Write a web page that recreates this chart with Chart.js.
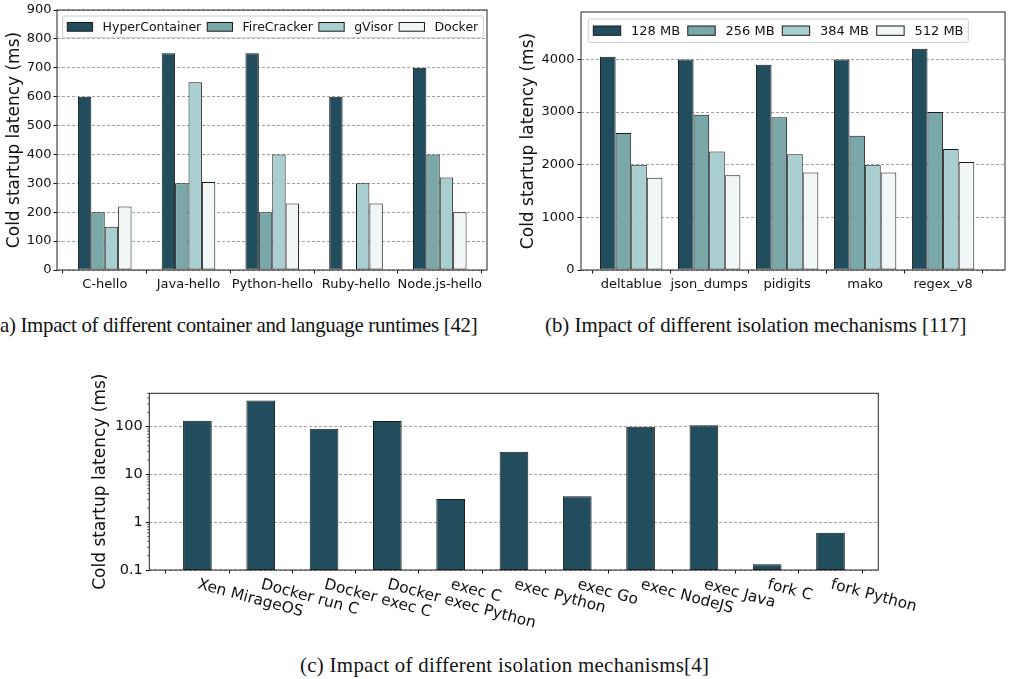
<!DOCTYPE html>
<html><head><meta charset="utf-8">
<script src="https://cdn.jsdelivr.net/npm/chart.js@4.4.1/dist/chart.umd.min.js"></script>
<style>
html,body{margin:0;padding:0;background:#fff;width:1011px;height:679px;overflow:hidden;position:relative}
canvas{position:absolute;display:block}
.cap{position:absolute;font-family:'Liberation Serif','DejaVu Serif',serif;white-space:nowrap;color:#111;line-height:1.2}
</style></head><body>
<canvas id="ca" width="500" height="300" style="left:0;top:0;width:500px;height:300px"></canvas>
<canvas id="cb" width="506" height="300" style="left:505px;top:0;width:506px;height:300px"></canvas>
<canvas id="cc" width="1011" height="282" style="left:0;top:360px;width:1011px;height:282px"></canvas>
<div class="cap" id="capA">(a) Impact of different container and language runtimes [42]</div>
<div class="cap" id="capB">(b) Impact of different isolation mechanisms [117]</div>
<div class="cap" id="capC">(c) Impact of different isolation mechanisms[4]</div>
<script>
// ---------- data ----------
const runtimeCategories = ['C-hello','Java-hello','Python-hello','Ruby-hello','Node.js-hello'];
const hyperContainer = [600,750,750,600,700];
const fireCracker   = [200,300,200,null,400];
const gVisor        = [150,650,400,300,320];
const docker        = [220,305,230,230,200];
const runtimeYTicks = [0,100,200,300,400,500,600,700,800,900];

const benchCategories = ['deltablue','json_dumps','pidigits','mako','regex_v8'];
const mem128 = [4050,4000,3900,4000,4200];
const mem256 = [2600,2950,2900,2550,3000];
const mem384 = [2000,2250,2200,2000,2300];
const mem512 = [1750,1800,1850,1850,2050];
const benchYTicks = [0,1000,2000,3000,4000];

const isoCategories = ['Xen MirageOS','Docker run C','Docker exec C','Docker exec Python','exec C','exec Python','exec Go','exec NodeJS','exec Java','fork C','fork Python'];
const isoLatency = [133,355,91,131,3.05,30,3.5,100,107,0.132,0.6];
const isoYTicks = [0.1,1,10,100];
const isoYTickLabels = ['0.1','1','10','100'];
const isoMinorTicks = [0.2,0.3,0.4,0.5,0.6,0.7,0.8,0.9,2,3,4,5,6,7,8,9,20,30,40,50,60,70,80,90,200,300,400,500];

// ---------- style ----------
const C_DARK = '#214d5c', C_MID = '#7aa8a8', C_LIGHT = '#aacfd0', C_WHITE = '#f1f6f6';
const EDGE = '#1a1a1a';
const FONT = '"DejaVu Sans", Verdana, sans-serif';
Chart.defaults.font.family = FONT;
Chart.defaults.color = '#111';

function pts(arr){ return arr.map((v,i)=>({x:i,y:v})); }

const framePlugin = {
  id:'frame',
  afterDraw(chart){
    const a = chart.chartArea, ctx = chart.ctx;
    ctx.save(); ctx.strokeStyle = '#222'; ctx.lineWidth = 1;
    ctx.strokeRect(a.left, a.top, a.right-a.left, a.bottom-a.top);
    ctx.restore();
  }
};

const boxLegendPlugin = {
  id:'boxLegend',
  afterDraw(chart, args, o){
    if(!o || !o.show) return;
    const ctx = chart.ctx; ctx.save();
    ctx.font = o.fontSize + 'px ' + FONT;
    const r = 2;
    ctx.beginPath();
    ctx.moveTo(o.x+r,o.y); ctx.lineTo(o.x+o.w-r,o.y); ctx.quadraticCurveTo(o.x+o.w,o.y,o.x+o.w,o.y+r);
    ctx.lineTo(o.x+o.w,o.y+o.h-r); ctx.quadraticCurveTo(o.x+o.w,o.y+o.h,o.x+o.w-r,o.y+o.h);
    ctx.lineTo(o.x+r,o.y+o.h); ctx.quadraticCurveTo(o.x,o.y+o.h,o.x,o.y+o.h-r);
    ctx.lineTo(o.x,o.y+r); ctx.quadraticCurveTo(o.x,o.y,o.x+r,o.y); ctx.closePath();
    ctx.fillStyle = 'rgba(255,255,255,0.85)'; ctx.fill();
    ctx.strokeStyle = '#cccccc'; ctx.lineWidth = 1; ctx.stroke();
    let x = o.x + o.pad; const cy = o.y + o.h/2;
    chart.data.datasets.forEach(ds=>{
      ctx.fillStyle = ds.backgroundColor;
      ctx.fillRect(x, cy-o.swH/2, o.swW, o.swH);
      ctx.strokeStyle = ds.borderColor; ctx.lineWidth = 1;
      ctx.strokeRect(x, cy-o.swH/2, o.swW, o.swH);
      x += o.swW + o.gap;
      ctx.fillStyle = '#111'; ctx.textBaseline = 'middle'; ctx.textAlign = 'left';
      ctx.fillText(ds.label, x, cy+0.5);
      x += ctx.measureText(ds.label).width + o.colGap;
    });
    ctx.restore();
  }
};

function groupedChart(id, cats, series, labels, colors, yTicks, yMax, xMin, xMax, yWidth, titlePad, pad, legend, tickPad, catPct){
  return new Chart(document.getElementById(id), {
    type:'bar',
    data:{ datasets: series.map((s,k)=>({
      label: labels[k], data: pts(s), backgroundColor: colors[k], borderColor: EDGE,
      borderWidth: 1, borderSkipped: false, barPercentage: 1, categoryPercentage: catPct }))},
    options:{
      responsive:false, animation:false, events:[],
      layout:{ padding: pad },
      plugins:{ legend:{display:false}, tooltip:{enabled:false}, boxLegend: legend },
      scales:{
        x:{ type:'linear', min:xMin, max:xMax, offset:false,
          afterBuildTicks: s=>{ s.ticks = cats.map((c,i)=>({value:i})); },
          afterFit: s=>{ s.height = 30; },
          ticks:{ callback:(v,i)=>cats[i], font:{size:13}, color:'#111', padding:3, maxRotation:0, minRotation:0, autoSkip:false },
          grid:{ drawOnChartArea:false, tickColor:'#111', tickLength:3.5, tickWidth:1 },
          border:{ display:false } },
        y:{ type:'linear', min:0, max:yMax,
          afterBuildTicks: s=>{ s.ticks = yTicks.map(v=>({value:v})); },
          afterFit: s=>{ s.width = yWidth; },
          ticks:{ callback:(v,i)=>String(yTicks[i]), font:{size:13}, color:'#111', padding:tickPad },
          grid:{ color:'#8a8a8a', lineWidth:0.8, tickColor:'#111', tickLength:3.5, tickWidth:1 },
          border:{ display:false, dash:[3,2] },
          title:{ display:true, text:'Cold startup latency (ms)', font:{size:17}, color:'#111', padding:{top:titlePad, bottom:0} } }
      }
    },
    plugins:[framePlugin, boxLegendPlugin]
  });
}

// (a)
const chartA = groupedChart('ca', runtimeCategories,
  [hyperContainer, fireCracker, gVisor, docker], ['HyperContainer','FireCracker','gVisor','Docker'],
  [C_DARK,C_MID,C_LIGHT,C_WHITE], runtimeYTicks, 900, -0.57, 4.564, 57, 4.3,
  {left:0, top:10, right:13, bottom:0},
  {show:true, x:62.7, y:16, w:420.6, h:21.7, pad:4.6, swW:25.3, swH:8.7, gap:10, colGap:6, fontSize:12.5}, 2, 0.64);

// (b)
const chartB = groupedChart('cb', benchCategories,
  [mem128, mem256, mem384, mem512], ['128 MB','256 MB','384 MB','512 MB'],
  [C_DARK,C_MID,C_LIGHT,C_WHITE], benchYTicks, 4900, -0.644, 4.794, 76, 13.8,
  {left:0, top:12, right:6, bottom:0},
  {show:true, x:83.3, y:19, w:380, h:23.3, pad:5, swW:27.4, swH:9.3, gap:10.3, colGap:7.7, fontSize:13}, 3, 0.8);

// (c)
const rotatedLabels = {
  id:'rotLabels',
  afterDraw(chart){
    const ctx = chart.ctx, xs = chart.scales.x, a = chart.chartArea;
    ctx.save(); ctx.font = '15.4px ' + FONT; ctx.fillStyle = '#111';
    ctx.textAlign = 'left'; ctx.textBaseline = 'top';
    isoCategories.forEach((lab,i)=>{
      const px = xs.getPixelForValue(i);
      ctx.save(); ctx.translate(px+2.5, a.bottom+7); ctx.rotate(15*Math.PI/180);
      ctx.fillText(lab, 0, 0); ctx.restore();
    });
    // minor ticks on log axis
    const ys = chart.scales.y;
    ctx.strokeStyle = '#222'; ctx.lineWidth = 0.8;
    isoMinorTicks.forEach(v=>{
      const py = ys.getPixelForValue(v);
      ctx.beginPath(); ctx.moveTo(a.left, py); ctx.lineTo(a.left-2, py); ctx.stroke();
    });
    ctx.restore();
  }
};
const chartC = new Chart(document.getElementById('cc'), {
  type:'bar',
  data:{ datasets:[{ label:'latency', data: pts(isoLatency), backgroundColor: C_DARK, borderColor: EDGE,
    borderWidth:1, borderSkipped:false, barPercentage:0.453, categoryPercentage:1 }]},
  options:{
    responsive:false, animation:false, events:[],
    layout:{ padding:{left:0, top:33.3, right:132.7, bottom:0} },
    plugins:{ legend:{display:false}, tooltip:{enabled:false} },
    scales:{
      x:{ type:'linear', min:-0.76, max:10.755, offset:false,
        afterBuildTicks: s=>{ s.ticks = isoCategories.map((c,i)=>({value:i})); },
        afterFit: s=>{ s.height = 72; },
        ticks:{ callback:()=>'', autoSkip:false, maxRotation:0 },
        grid:{ drawOnChartArea:false, tickColor:'#111', tickLength:3.5, tickWidth:1 },
        border:{ display:false } },
      y:{ type:'logarithmic', min:0.1, max:500,
        afterBuildTicks: s=>{ s.ticks = isoYTicks.map(v=>({value:v})); },
        afterFit: s=>{ s.width = 149.3; },
        ticks:{ callback:(v,i)=>isoYTickLabels[i], font:{size:14.5}, color:'#111', padding:3 },
        grid:{ color:'#8a8a8a', lineWidth:0.8, tickColor:'#111', tickLength:3.5, tickWidth:1 },
        border:{ display:false, dash:[3,2] },
        title:{ display:true, text:'Cold startup latency (ms)', font:{size:17}, color:'#111', padding:{top:90.1, bottom:0} } }
    }
  },
  plugins:[framePlugin, rotatedLabels]
});

// ---------- captions ----------
function baselineOffset(el){
  const m = document.createElement('span');
  m.style.cssText = 'display:inline-block;width:0;height:0;vertical-align:baseline';
  el.appendChild(m);
  const off = m.getBoundingClientRect().top - el.getBoundingClientRect().top;
  el.removeChild(m);
  return off;
}
const capA = document.getElementById('capA'), capB = document.getElementById('capB'), capC = document.getElementById('capC');
[capA,capB,capC].forEach(e=>{ e.style.fontSize='18px'; e.style.left='0px'; e.style.top='0px'; });
const wB0 = capB.getBoundingClientRect().width;
const fs = 18 * 421.7 / wB0;
[capA,capB,capC].forEach(e=>{ e.style.fontSize = fs + 'px'; });
function fitWidth(el, target){
  const w = el.getBoundingClientRect().width;
  const n = el.textContent.length;
  el.style.letterSpacing = ((target - w) / n) + 'px';
  return el.getBoundingClientRect().width;
}
const wA = fitWidth(capA, 484);
const wC = fitWidth(capC, 409.3);
capA.style.left = (477.3 - wA) + 'px';
capB.style.left = '545px';
capC.style.left = (504.7 - wC/2) + 'px';
capA.style.top = (331.7 - baselineOffset(capA)) + 'px';
capB.style.top = (331.7 - baselineOffset(capB)) + 'px';
capC.style.top = (671.7 - baselineOffset(capC)) + 'px';
</script>
</body></html>
